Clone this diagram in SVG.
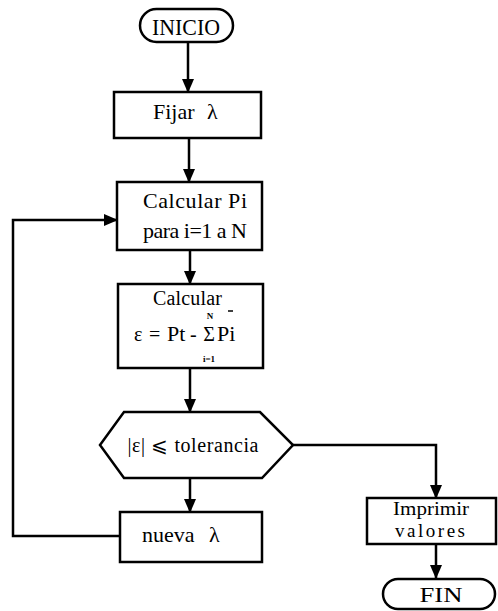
<svg xmlns="http://www.w3.org/2000/svg" width="498" height="611" viewBox="0 0 498 611">
  <style>
    .box { fill: #fff; stroke: #000; stroke-width: 2.5; }
    .link { fill: none; stroke: #000; stroke-width: 2.5; }
    text { font-family: "Liberation Serif", "Times New Roman", serif; fill: #000; }
    .t { font-size: 20px; }
    .lg { font-size: 22px; }
    .sm { font-size: 19px; }
    .c { text-anchor: middle; }
    .small { font-size: 9px; font-weight: bold; }
  </style>
  <defs>
    <marker id="arrow" markerUnits="userSpaceOnUse" markerWidth="14" markerHeight="12" viewBox="0 0 14 12" refX="13" refY="6" orient="auto">
      <path d="M0,0 L14,6 L0,12 Z" fill="#000"/>
    </marker>
  </defs>

  <rect width="498" height="611" fill="#fff"/>

  <!-- connectors -->
  <g id="connectors">
    <line class="link" x1="188" y1="42" x2="188" y2="92" marker-end="url(#arrow)"/>
    <line class="link" x1="189" y1="138" x2="189" y2="182" marker-end="url(#arrow)"/>
    <line class="link" x1="190" y1="250" x2="190" y2="284" marker-end="url(#arrow)"/>
    <line class="link" x1="190" y1="368" x2="190" y2="412" marker-end="url(#arrow)"/>
    <line class="link" x1="190" y1="478" x2="190" y2="512" marker-end="url(#arrow)"/>
    <polyline class="link" points="120,536 13,536 13,220 117,220" marker-end="url(#arrow)"/>
    <polyline class="link" points="293,445 436,445 436,498" marker-end="url(#arrow)"/>
    <line class="link" x1="436" y1="544" x2="436" y2="578" marker-end="url(#arrow)"/>
  </g>

  <g id="inicio">
    <rect class="box" x="140" y="9" width="93" height="33" rx="16.5"/>
    <text class="c" x="186" y="35" style="font-size:23px" textLength="68" lengthAdjust="spacingAndGlyphs">INICIO</text>
  </g>

  <g id="fijar">
    <rect class="box" x="114" y="92" width="147" height="46"/>
    <text class="lg" x="153" y="119">Fijar</text>
    <text class="lg" x="207" y="119">λ</text>
  </g>

  <g id="calcular-pi">
    <rect class="box" x="117" y="182" width="145" height="68"/>
    <text class="lg c" x="195" y="208" textLength="104" lengthAdjust="spacing">Calcular Pi</text>
    <text class="lg c" x="195" y="238" textLength="104" lengthAdjust="spacing">para i=1 a N</text>
  </g>

  <g id="calcular-error">
    <rect class="box" x="118" y="284" width="145" height="84"/>
    <text class="t" x="153" y="305" textLength="69" lengthAdjust="spacing">Calcular</text>
    <line x1="228" y1="311" x2="233" y2="311" stroke="#000" stroke-width="1.5"/>
    <text class="t" x="134" y="341">ε</text>
    <text class="t" x="149" y="341">=</text>
    <text class="lg" x="167" y="341">Pt</text>
    <text class="t" x="190" y="341">-</text>
    <text class="t c" x="209" y="341">Σ</text>
    <text class="small c" x="210" y="319">N</text>
    <text class="small c" x="209" y="362">i=1</text>
    <text class="lg" x="217" y="341">Pi</text>
  </g>

  <g id="tolerancia">
    <polygon class="box" points="100,445 124,412 260,412 293,445 262,478 124,478"/>
    <text class="t c" x="193" y="452" textLength="131" lengthAdjust="spacing">|ε| ⩽ tolerancia</text>
  </g>

  <g id="nueva">
    <rect class="box" x="120" y="512" width="142" height="50"/>
    <text class="lg" x="142" y="542">nueva</text>
    <text class="lg" x="209" y="542">λ</text>
  </g>

  <g id="imprimir">
    <rect class="box" x="367" y="498" width="129" height="46"/>
    <text class="sm c" x="431" y="515" textLength="76" lengthAdjust="spacingAndGlyphs">Imprimir</text>
    <text class="sm c" x="430" y="537" textLength="70" lengthAdjust="spacing">valores</text>
  </g>

  <g id="fin">
    <rect class="box" x="383" y="579" width="112" height="30" rx="15"/>
    <text class="c" x="441" y="602" style="font-size:21px" textLength="43" lengthAdjust="spacingAndGlyphs">FIN</text>
  </g>
</svg>
